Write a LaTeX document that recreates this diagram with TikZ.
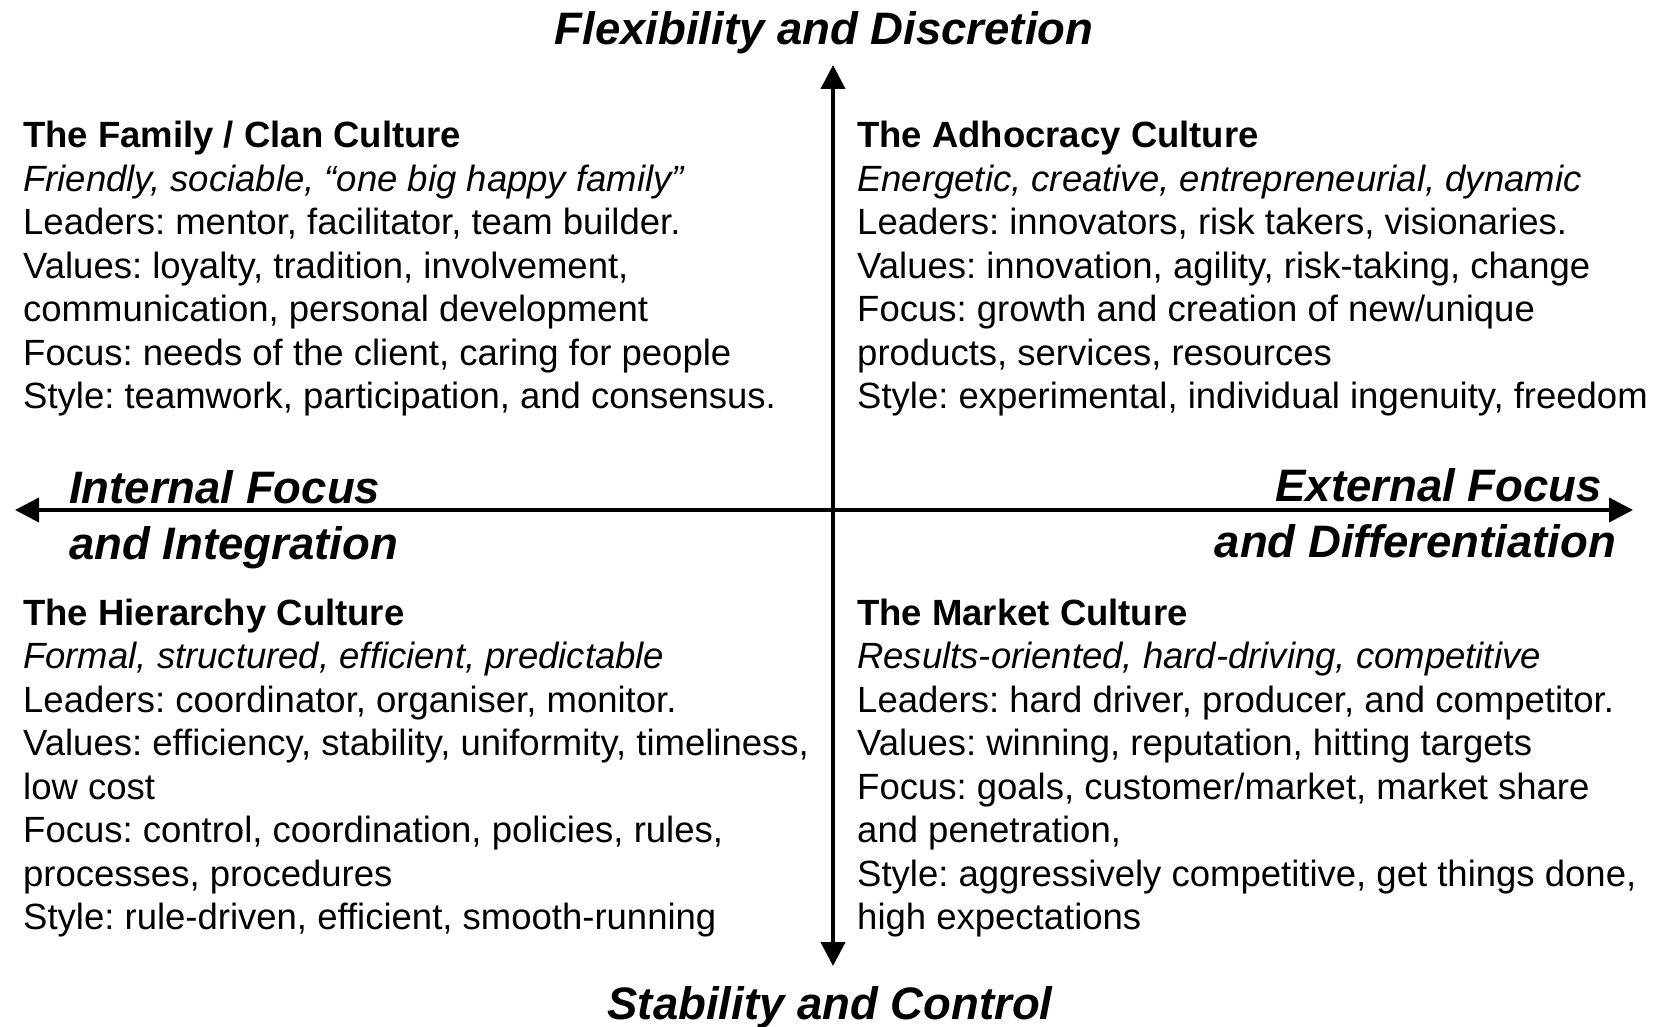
\documentclass[tikz,border=0pt]{standalone}
\usepackage{fontspec}
\setmainfont{Liberation Sans}
\usetikzlibrary{arrows.meta}
\frenchspacing

\tikzset{
  quadrant/.style={inner sep=0pt,anchor=north west,align=left,
    font=\fontsize{36.5}{43.5}\selectfont},
  axislabel/.style={inner sep=0pt,font=\fontsize{45.5}{56}\selectfont\bfseries\itshape},
  axisarrow/.style={line width=4pt,
    {Triangle[length=24pt,width=24pt]}-{Triangle[length=24pt,width=24pt]}}
}

\begin{document}
\begin{tikzpicture}[x=1pt,y=-1pt]
  \useasboundingbox (0,0) rectangle (1653,1027);

  % axis ends
  \coordinate (north) at (833,65);
  \coordinate (south) at (833,966);
  \coordinate (west) at (15,510);
  \coordinate (east) at (1633,510);
  \draw[axisarrow] (south) -- (north);
  \draw[axisarrow] (west) -- (east);

  % axis labels
  \node[axislabel,anchor=base] (flex) at (824,44.6) {Flexibility and Discretion};
  \node[axislabel,anchor=base] (stab) at (830,1019.7) {Stability and Control};
  \node[axislabel,anchor=north west,align=left] (internal) at (69,470)
    {Internal Focus\\and Integration};
  \node[axislabel,anchor=north east,align=right] (external) at (1616,468)
    {External Focus\kern14pt\\and Differentiation};

  % quadrants
  \node[quadrant] (clan) at (23,121) {
    \textbf{The Family / Clan Culture}\\
    \itshape Friendly, sociable, “one big happy family”\\
    Leaders: mentor, facilitator, team builder.\\
    Values: loyalty, tradition, involvement,\\
    communication, personal development\\
    Focus: needs of the client, caring for people\\
    Style: teamwork, participation, and consensus.
  };
  \node[quadrant] (adhocracy) at (857,121) {
    \textbf{The Adhocracy Culture}\\
    \itshape Energetic, creative, entrepreneurial, dynamic\\
    Leaders: innovators, risk takers, visionaries.\\
    Values: innovation, agility, risk-taking, change\\
    Focus: growth and creation of new/unique\\
    products, services, resources\\
    Style: experimental, individual ingenuity, freedom
  };
  \node[quadrant] (hierarchy) at (23,598.5) {
    \textbf{The Hierarchy Culture}\\
    \itshape Formal, structured, efficient, predictable\\
    Leaders: coordinator, organiser, monitor.\\
    Values: efficiency, stability, uniformity, timeliness,\\
    low cost\\
    Focus: control, coordination, policies, rules,\\
    processes, procedures\\
    Style: rule-driven, efficient, smooth-running
  };
  \node[quadrant] (market) at (857,598.5) {
    \textbf{The Market Culture}\\
    \itshape Results-oriented, hard-driving, competitive\\
    Leaders: hard driver, producer, and competitor.\\
    Values: winning, reputation, hitting targets\\
    Focus: goals, customer/market, market share\\
    and penetration,\\
    Style: aggressively competitive, get things done,\\
    high expectations
  };
\end{tikzpicture}
\end{document}
